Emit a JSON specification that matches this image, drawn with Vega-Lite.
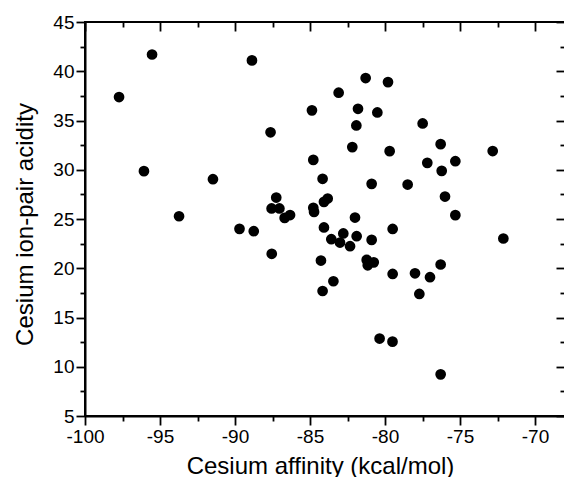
{
  "$schema": "https://vega.github.io/schema/vega-lite/v6.json",
  "width": 480,
  "height": 394,
  "autosize": {"type": "none"},
  "padding": {"left": 85, "top": 22, "right": 0, "bottom": 61},
  "background": "white",
  "config": {
    "view": {"stroke": "black", "strokeWidth": 2},
    "axis": {
      "grid": false,
      "labelFont": "Liberation Sans",
      "titleFont": "Liberation Sans",
      "labelFontSize": 19,
      "titleFontSize": 24,
      "titleFontWeight": "normal",
      "labelColor": "black",
      "titleColor": "black",
      "tickColor": "black",
      "domainColor": "black",
      "tickWidth": 1.8,
      "domainWidth": 2
    }
  },
  "data": {
    "values": [
      {"affinity": -97.73, "acidity": 37.38},
      {"affinity": -95.53, "acidity": 41.7},
      {"affinity": -96.07, "acidity": 29.86},
      {"affinity": -93.73, "acidity": 25.28},
      {"affinity": -91.47, "acidity": 29.04},
      {"affinity": -88.87, "acidity": 41.1},
      {"affinity": -89.7, "acidity": 24.0},
      {"affinity": -88.75, "acidity": 23.76},
      {"affinity": -87.63, "acidity": 33.8},
      {"affinity": -87.55, "acidity": 21.47},
      {"affinity": -87.25, "acidity": 27.18},
      {"affinity": -87.56, "acidity": 26.07},
      {"affinity": -87.04, "acidity": 26.07},
      {"affinity": -86.69, "acidity": 25.11},
      {"affinity": -86.33, "acidity": 25.4},
      {"affinity": -81.29, "acidity": 39.31},
      {"affinity": -79.8, "acidity": 38.9},
      {"affinity": -83.09, "acidity": 37.82},
      {"affinity": -84.87, "acidity": 36.03},
      {"affinity": -81.8, "acidity": 36.19},
      {"affinity": -80.51, "acidity": 35.82},
      {"affinity": -81.91, "acidity": 34.5},
      {"affinity": -77.49, "acidity": 34.7},
      {"affinity": -82.18, "acidity": 32.3},
      {"affinity": -79.69, "acidity": 31.89},
      {"affinity": -84.78, "acidity": 31.0},
      {"affinity": -77.18, "acidity": 30.7},
      {"affinity": -76.29, "acidity": 32.6},
      {"affinity": -72.82, "acidity": 31.9},
      {"affinity": -75.31, "acidity": 30.87},
      {"affinity": -76.22, "acidity": 29.89},
      {"affinity": -78.49, "acidity": 28.5},
      {"affinity": -76.0, "acidity": 27.28},
      {"affinity": -75.31, "acidity": 25.39},
      {"affinity": -79.49, "acidity": 23.99},
      {"affinity": -72.11, "acidity": 23.02},
      {"affinity": -76.29, "acidity": 20.38},
      {"affinity": -79.49, "acidity": 19.42},
      {"affinity": -78.0, "acidity": 19.49},
      {"affinity": -77.0, "acidity": 19.09},
      {"affinity": -77.71, "acidity": 17.39},
      {"affinity": -80.36, "acidity": 12.86},
      {"affinity": -79.5, "acidity": 12.55},
      {"affinity": -76.29, "acidity": 9.23},
      {"affinity": -84.16, "acidity": 29.08},
      {"affinity": -80.89, "acidity": 28.57},
      {"affinity": -84.78, "acidity": 26.13},
      {"affinity": -84.73, "acidity": 25.72},
      {"affinity": -84.07, "acidity": 26.74},
      {"affinity": -83.82, "acidity": 27.08},
      {"affinity": -82.0, "acidity": 25.15},
      {"affinity": -84.07, "acidity": 24.14},
      {"affinity": -83.58, "acidity": 22.95},
      {"affinity": -82.78, "acidity": 23.53},
      {"affinity": -83.0, "acidity": 22.61},
      {"affinity": -82.33, "acidity": 22.24},
      {"affinity": -81.89, "acidity": 23.25},
      {"affinity": -80.89, "acidity": 22.88},
      {"affinity": -84.27, "acidity": 20.78},
      {"affinity": -81.22, "acidity": 20.85},
      {"affinity": -80.75, "acidity": 20.6},
      {"affinity": -81.15, "acidity": 20.3},
      {"affinity": -83.44, "acidity": 18.68},
      {"affinity": -84.16, "acidity": 17.69}
    ]
  },
  "layer": [
    {
      "mark": {"type": "point", "filled": true, "shape": "circle", "size": 115, "color": "black", "opacity": 1},
      "encoding": {
        "x": {
          "field": "affinity", "type": "quantitative",
          "scale": {"domain": [-100, -68], "nice": false, "zero": false},
          "axis": {
            "orient": "bottom",
            "values": [-100, -95, -90, -85, -80, -75, -70],
            "labelExpr": "toString(datum.value)",
            "title": "Cesium affinity (kcal/mol)",
            "titleX": 235,
            "tickSize": 9, "labelPadding": 2, "titlePadding": 8,
            "labelFlush": false
          }
        },
        "y": {
          "field": "acidity", "type": "quantitative",
          "scale": {"domain": [5, 45], "nice": false, "zero": false},
          "axis": {
            "orient": "left",
            "values": [5, 10, 15, 20, 25, 30, 35, 40, 45],
            "title": "Cesium ion-pair acidity",
            "titleY": 202,
            "tickSize": 9, "labelPadding": 2, "titlePadding": 15,
            "labelFlush": false
          }
        }
      }
    },
    {
      "mark": {"type": "point", "opacity": 0},
      "encoding": {
        "x": {
          "field": "affinity", "type": "quantitative",
          "axis": {"orient": "bottom", "values": [-97.5, -92.5, -87.5, -82.5, -77.5, -72.5], "labels": false, "domain": false, "title": null, "tickSize": 5}
        },
        "y": {
          "field": "acidity", "type": "quantitative",
          "axis": {"orient": "left", "values": [7.5, 12.5, 17.5, 22.5, 27.5, 32.5, 37.5, 42.5], "labels": false, "domain": false, "title": null, "tickSize": 5}
        }
      }
    },
    {
      "mark": {"type": "point", "opacity": 0},
      "encoding": {
        "x": {
          "field": "affinity", "type": "quantitative",
          "axis": {"orient": "top", "values": [-100, -95, -90, -85, -80, -75, -70], "labels": false, "domain": false, "title": null, "tickSize": -9}
        },
        "y": {
          "field": "acidity", "type": "quantitative",
          "axis": {"orient": "right", "values": [5, 10, 15, 20, 25, 30, 35, 40, 45], "labels": false, "domain": false, "title": null, "tickSize": -9}
        }
      }
    },
    {
      "mark": {"type": "point", "opacity": 0},
      "encoding": {
        "x": {
          "field": "affinity", "type": "quantitative",
          "axis": {"orient": "top", "values": [-97.5, -92.5, -87.5, -82.5, -77.5, -72.5], "labels": false, "domain": false, "title": null, "tickSize": -5}
        },
        "y": {
          "field": "acidity", "type": "quantitative",
          "axis": {"orient": "right", "values": [7.5, 12.5, 17.5, 22.5, 27.5, 32.5, 37.5, 42.5], "labels": false, "domain": false, "title": null, "tickSize": -5}
        }
      }
    }
  ],
  "resolve": {"axis": {"x": "independent", "y": "independent"}}
}
